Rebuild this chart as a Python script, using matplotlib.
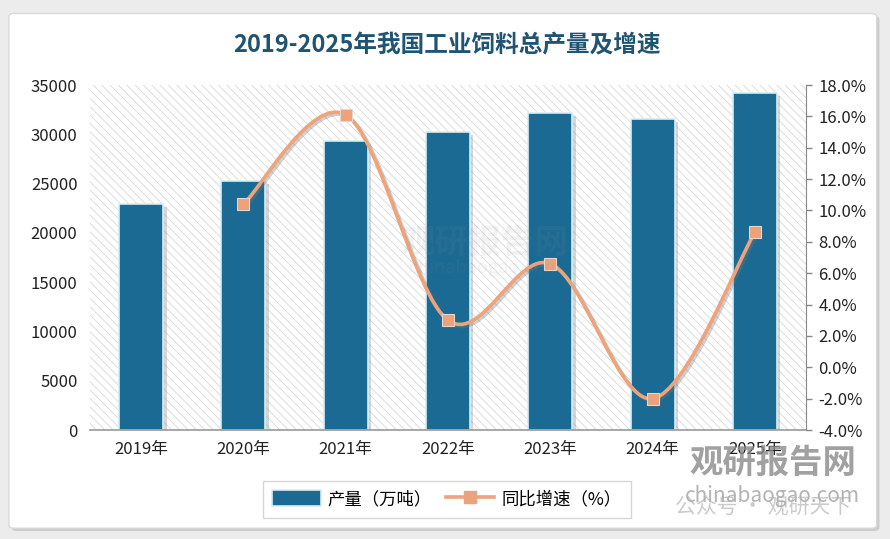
import numpy as np
import matplotlib
matplotlib.use('Agg')
import matplotlib.pyplot as plt
import matplotlib.patheffects as pe
from matplotlib.patches import Rectangle, FancyBboxPatch, PathPatch, Patch
from matplotlib.lines import Line2D
from matplotlib.path import Path

plt.rcParams['font.family'] = ['Noto Sans CJK SC', 'DejaVu Sans']
plt.rcParams['hatch.linewidth'] = 0.6

# data
years = ['2019年', '2020年', '2021年', '2022年', '2023年', '2024年', '2025年']
output = [22885, 25276, 29344, 30223, 32159, 31503, 34200]     # 产量（万吨）
growth_years = [1, 2, 3, 4, 5, 6]                                  # index into years
growth = [10.4, 16.1, 3.0, 6.6, -2.0, 8.6]                         # 同比增速（%）

bar_color = '#1b6a94'
line_color = '#eea47b'

fig = plt.figure(figsize=(8.9, 5.39), dpi=100)
fig.patch.set_facecolor('#ececec')

# white card behind the chart
card = FancyBboxPatch((0.010, 0.020), 0.975, 0.955, boxstyle='round,pad=0,rounding_size=0.006',
                      transform=fig.transFigure, facecolor='white', edgecolor='#dadada',
                      linewidth=1, zorder=-10,
                      path_effects=[pe.SimplePatchShadow(offset=(2, -2), alpha=0.2), pe.Normal()])
fig.patches.append(card)

fig.text(0.502, 0.9165, '2019-2025年我国工业饲料总产量及增速', ha='center', va='center',
         fontsize=17, fontweight='bold', color='#1f5573')

ax = fig.add_axes([0.1011, 0.2022, 0.8045, 0.6401])
ax.set_facecolor('white')
ax.add_patch(Rectangle((0, 0), 1, 1, transform=ax.transAxes, facecolor='white',
                       edgecolor='#d8d8d8', hatch='\\\\\\\\', linewidth=0, zorder=0))

x = np.arange(len(years))
bars = ax.bar(x, output, width=0.43, color=bar_color, edgecolor='#d6eef6', linewidth=1.2, zorder=2)
for b in bars:
    b.set_path_effects([pe.SimplePatchShadow(offset=(2.5, -2), shadow_rgbFace='#999999', alpha=0.4),
                        pe.Normal()])

ax.set_xlim(-0.5, len(years) - 0.5)
ax.set_ylim(0, 35000)
ax.set_yticks(np.arange(0, 35001, 5000))
ax.set_xticks(x)
ax.set_xticklabels(years)
ax.tick_params(axis='y', length=0, pad=9, labelsize=12, labelcolor='#222222')
ax.tick_params(axis='x', length=0, pad=8, labelsize=12, labelcolor='#222222')
for s in ['left', 'top', 'right']:
    ax.spines[s].set_visible(False)
ax.spines['bottom'].set_color('#9a9a9a')
ax.spines['bottom'].set_linewidth(1.2)
ax.spines['bottom'].set_zorder(3)

ax2 = ax.twinx()
ax2.set_ylim(-4, 18)
ax2.set_yticks(np.arange(-4, 18.1, 2))
ax2.set_yticklabels([f'{v:.1f}%' for v in np.arange(-4, 18.1, 2)])
ax2.tick_params(axis='y', length=4, width=1, color='#888888', pad=5, labelsize=12, labelcolor='#222222')
for s in ['left', 'top', 'bottom']:
    ax2.spines[s].set_visible(False)
ax2.spines['right'].set_color('#888888')

# smoothed growth line (Catmull-Rom style bezier through the data points)
px = np.array(growth_years, dtype=float)
py = np.array(growth, dtype=float)
pts = np.column_stack([px, py])
verts = [pts[0]]
codes = [Path.MOVETO]
for i in range(len(pts) - 1):
    p0 = pts[i - 1] if i > 0 else pts[i]
    p1 = pts[i]
    p2 = pts[i + 1]
    p3 = pts[i + 2] if i + 2 < len(pts) else pts[i + 1]
    c1 = p1 + (p2 - p0) / 6.0
    c2 = p2 - (p3 - p1) / 6.0
    verts += [c1, c2, p2]
    codes += [Path.CURVE4] * 3
curve = PathPatch(Path(verts, codes), facecolor='none', edgecolor=line_color, linewidth=2.6,
                  zorder=3, path_effects=[pe.SimpleLineShadow(offset=(1.5, -1.5), shadow_color='#777777', alpha=0.35),
                                          pe.Normal()])
ax2.add_patch(curve)
ax2.plot(px, py, linestyle='none', marker='s', markersize=9, markerfacecolor='#eda27b',
         markeredgecolor='#e3d6cc', markeredgewidth=0.8, zorder=4)

# legend
handles = [Patch(facecolor=bar_color, edgecolor='#d6eef6', linewidth=1.2),
           Line2D([0], [0], color=line_color, linewidth=2.6, marker='s', markersize=8,
                  markerfacecolor='#eda27b', markeredgecolor='#eda27b')]
fig.legend(handles, ['产量（万吨）', '同比增速（%）'], loc='center', bbox_to_anchor=(0.502, 0.074),
           bbox_transform=fig.transFigure, ncol=2, fontsize=12.5, frameon=True, fancybox=False,
           edgecolor='#cccccc', handlelength=2.8, handleheight=1.0, columnspacing=0.8,
           handletextpad=0.4, borderpad=0.55)

# watermarks
fig.text(0.545, 0.548, '观研报告网', ha='center', va='center', fontsize=24, fontweight='bold',
         color='#888888', alpha=0.1)
fig.text(0.545, 0.503, 'chinabaogao.com', ha='center', va='center', fontsize=13,
         color='#888888', alpha=0.1)
fig.text(0.868, 0.140, '观研报告网', ha='center', va='center', fontsize=24, fontweight='bold',
         color='#8a8a8a', alpha=0.8)
fig.text(0.868, 0.080, 'chinabaogao.com', ha='center', va='center', fontsize=15,
         color='#9a9a9a', alpha=0.75)
fig.text(0.858, 0.058, '公众号 · 观研天下', ha='center', va='center', fontsize=15,
         color='#b0b0b0', alpha=0.65)

fig.savefig('out.png', dpi=100, facecolor=fig.get_facecolor())
